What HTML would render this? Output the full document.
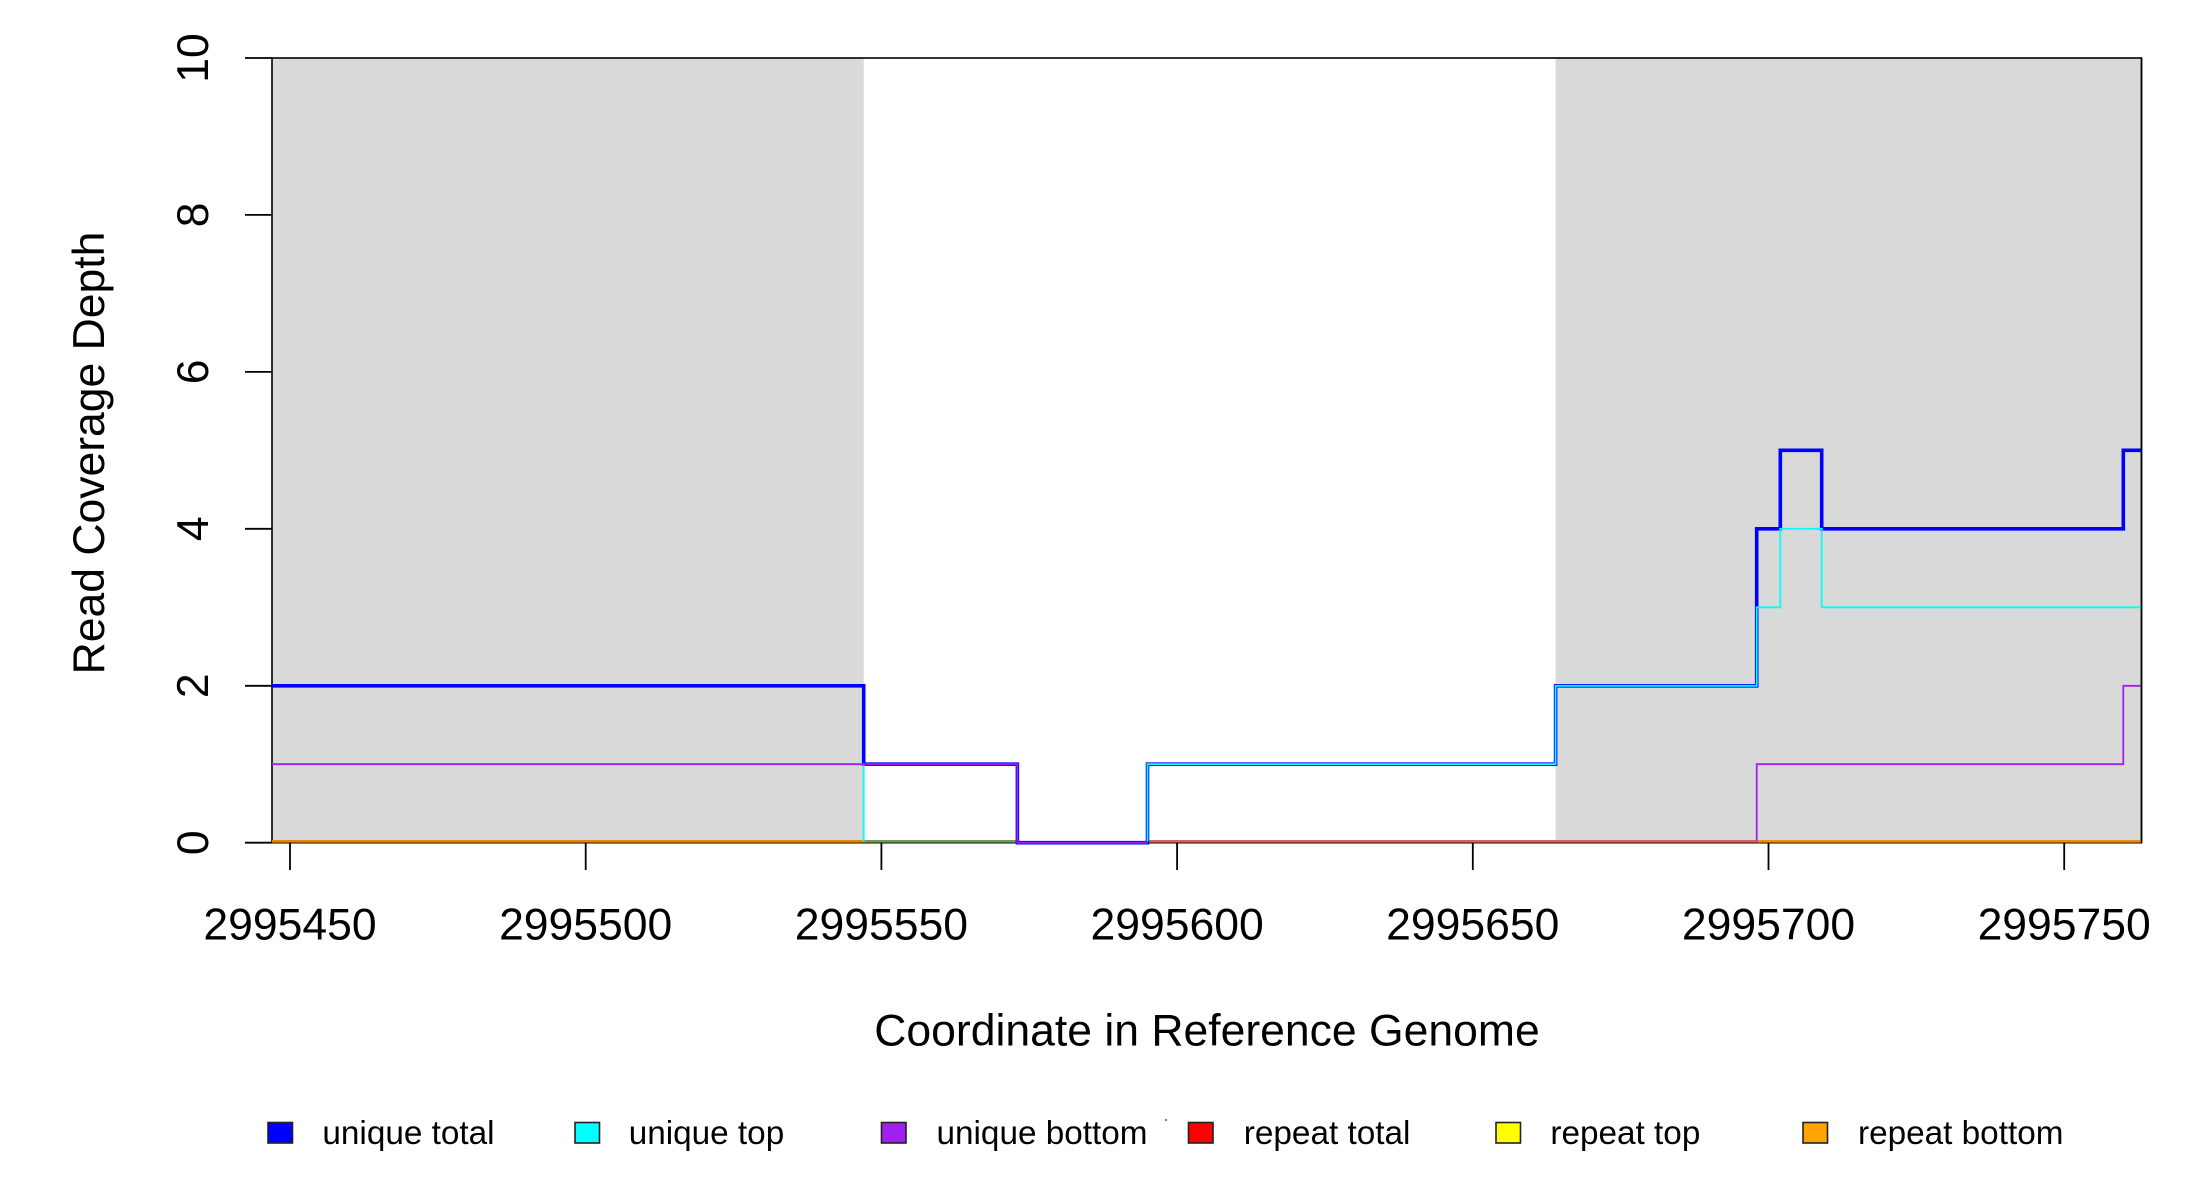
<!DOCTYPE html>
<html>
<head>
<meta charset="utf-8">
<style>
  html, body { margin: 0; padding: 0; background: #ffffff; }
  body { width: 2200px; height: 1200px; overflow: hidden; }
  svg { display: block; }
  text { font-family: "Liberation Sans", Arial, sans-serif; fill: #000; }
</style>
</head>
<body>
<svg width="2200" height="1200" viewBox="0 0 2200 1200" xmlns="http://www.w3.org/2000/svg">
  <rect x="0" y="0" width="2200" height="1200" fill="#ffffff"/>

  <!-- shaded regions -->
  <rect x="272" y="58" width="591.7" height="784.7" fill="#d9d9d9"/>
  <rect x="1555.6" y="58" width="585.9" height="784.7" fill="#d9d9d9"/>

  <!-- plot box (drawn under series) -->
  <rect x="272" y="58" width="1869.5" height="784.7" fill="none" stroke="#000" stroke-width="1.6"/>

  <!-- bottom (repeat) lines at zero -->
  <g stroke-width="2.6" fill="none">
    <line x1="272" y1="841.3" x2="863.7" y2="841.3" stroke="#e8820e"/>
    <line x1="863.7" y1="841.3" x2="1017.4" y2="841.3" stroke="#6f9a55"/>
    <line x1="1147.5" y1="841.3" x2="1756.7" y2="841.3" stroke="#d86060"/>
    <line x1="1756.7" y1="841.3" x2="2141.5" y2="841.3" stroke="#f08a10"/>
  </g>

  <!-- unique total (blue) -->
  <polyline fill="none" stroke="#0000ff" stroke-width="3.6" stroke-linejoin="miter"
    points="272,685.8 863.7,685.8 863.7,764.2 1017.4,764.2 1017.4,842.7 1147.5,842.7 1147.5,764.2 1555.6,764.2 1555.6,685.8 1756.7,685.8 1756.7,528.8 1780.3,528.8 1780.3,450.35 1821.7,450.35 1821.7,528.8 2123.3,528.8 2123.3,450.35 2141.5,450.35"/>

  <!-- unique top (cyan) -->
  <polyline fill="none" stroke="#00ffff" stroke-width="1.8"
    points="272,764.2 863.7,764.2 863.7,841.5"/>
  <polyline fill="none" stroke="#00ffff" stroke-width="1.8"
    points="1147.5,841.5 1147.5,764.2 1555.6,764.2 1555.6,685.8 1756.7,685.8 1756.7,607.3 1780.3,607.3 1780.3,528.8 1821.7,528.8 1821.7,607.3 2141.5,607.3"/>

  <!-- unique bottom (purple) -->
  <polyline fill="none" stroke="#a020f0" stroke-width="1.8"
    points="272,764.2 1017.4,764.2 1017.4,842.7 1147.5,842.7"/>
  <polyline fill="none" stroke="#a020f0" stroke-width="1.8"
    points="1756.7,841.5 1756.7,764.2 2123.3,764.2 2123.3,685.8 2141.5,685.8"/>

  <!-- right edge of box re-stroked -->
  <line x1="2141.5" y1="58" x2="2141.5" y2="842.7" stroke="#000" stroke-width="1.6"/>

  <!-- y axis ticks -->
  <g stroke="#000" stroke-width="1.8">
    <line x1="245" y1="842.7" x2="272" y2="842.7"/>
    <line x1="245" y1="685.8" x2="272" y2="685.8"/>
    <line x1="245" y1="528.8" x2="272" y2="528.8"/>
    <line x1="245" y1="371.9" x2="272" y2="371.9"/>
    <line x1="245" y1="214.9" x2="272" y2="214.9"/>
    <line x1="245" y1="58" x2="272" y2="58"/>
  </g>
  <g font-size="44.5" text-anchor="middle">
    <text transform="translate(208,842.7) rotate(-90)">0</text>
    <text transform="translate(208,685.8) rotate(-90)">2</text>
    <text transform="translate(208,528.8) rotate(-90)">4</text>
    <text transform="translate(208,371.9) rotate(-90)">6</text>
    <text transform="translate(208,214.9) rotate(-90)">8</text>
    <text transform="translate(208,58) rotate(-90)">10</text>
  </g>

  <!-- x axis ticks -->
  <g stroke="#000" stroke-width="1.8">
    <line x1="290" y1="842.7" x2="290" y2="870"/>
    <line x1="585.7" y1="842.7" x2="585.7" y2="870"/>
    <line x1="881.4" y1="842.7" x2="881.4" y2="870"/>
    <line x1="1177.1" y1="842.7" x2="1177.1" y2="870"/>
    <line x1="1472.8" y1="842.7" x2="1472.8" y2="870"/>
    <line x1="1768.5" y1="842.7" x2="1768.5" y2="870"/>
    <line x1="2064.2" y1="842.7" x2="2064.2" y2="870"/>
  </g>
  <g font-size="44.5" text-anchor="middle">
    <text x="290" y="939.3">2995450</text>
    <text x="585.7" y="939.3">2995500</text>
    <text x="881.4" y="939.3">2995550</text>
    <text x="1177.1" y="939.3">2995600</text>
    <text x="1472.8" y="939.3">2995650</text>
    <text x="1768.5" y="939.3">2995700</text>
    <text x="2064.2" y="939.3">2995750</text>
  </g>

  <!-- axis titles -->
  <text x="1207" y="1045.7" font-size="44.5" text-anchor="middle">Coordinate in Reference Genome</text>
  <text transform="translate(104,453) rotate(-90)" font-size="44.5" text-anchor="middle">Read Coverage Depth</text>

  <!-- legend -->
  <g stroke="#222" stroke-width="1.6">
    <rect x="268" y="1122.5" width="24.5" height="20.5" fill="#0000ff"/>
    <rect x="575" y="1122.5" width="24.5" height="20.5" fill="#00ffff"/>
    <rect x="881.5" y="1122.5" width="24.5" height="20.5" fill="#a020f0"/>
    <rect x="1188.5" y="1122.5" width="24.5" height="20.5" fill="#ff0000"/>
    <rect x="1496" y="1122.5" width="24.5" height="20.5" fill="#ffff00"/>
    <rect x="1803" y="1122.5" width="24.5" height="20.5" fill="#ffa500"/>
  </g>
  <circle cx="1166" cy="1120" r="1" fill="#555"/>
  <g font-size="33.3">
    <text x="322.4" y="1144">unique total</text>
    <text x="628.7" y="1144">unique top</text>
    <text x="936.5" y="1144">unique bottom</text>
    <text x="1243.8" y="1144">repeat total</text>
    <text x="1550.4" y="1144">repeat top</text>
    <text x="1858" y="1144">repeat bottom</text>
  </g>
</svg>
</body>
</html>
